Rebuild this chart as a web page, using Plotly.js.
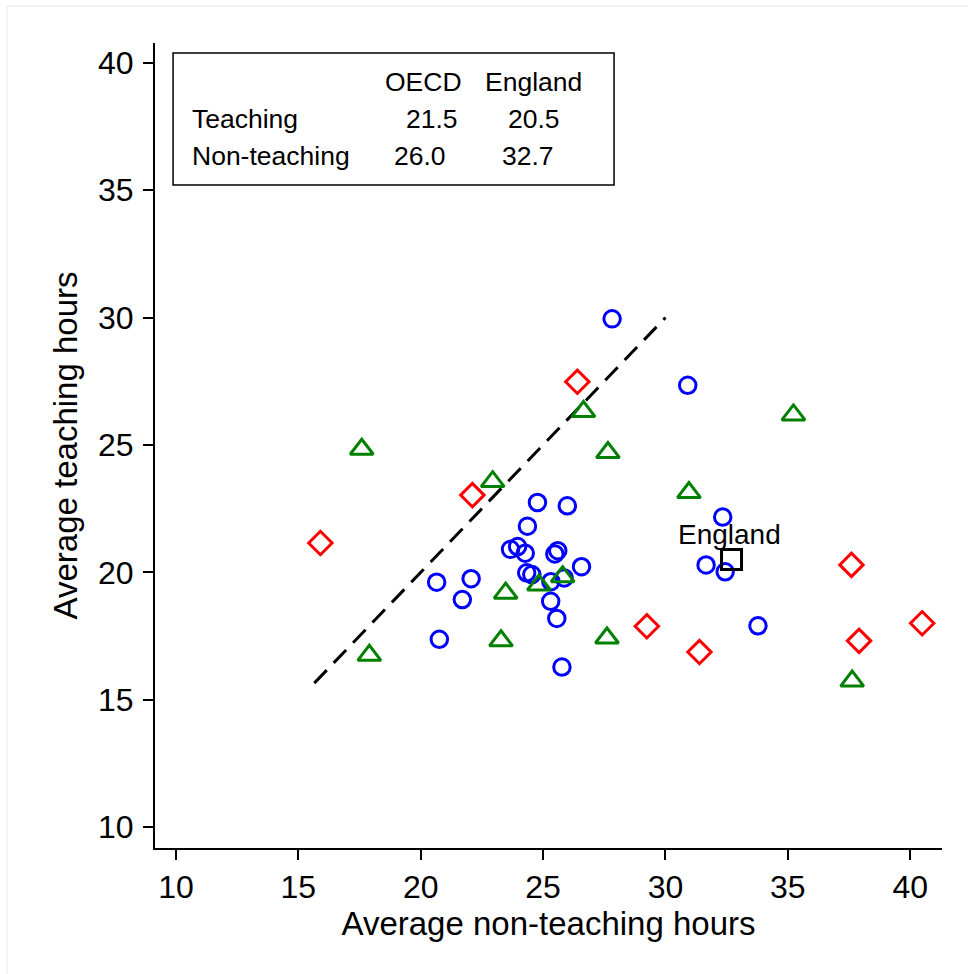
<!DOCTYPE html>
<html>
<head>
<meta charset="utf-8">
<script src="https://cdn.plot.ly/plotly-3.0.1.min.js"></script>
<style>
  html, body { margin: 0; padding: 0; background: #ffffff; }
  #chart { width: 968px; height: 974px; }
</style>
</head>
<body>
<div id="chart"></div>
<script>
// Group 1 (blue circles): [non-teaching hours, teaching hours]
const blueX = [27.82, 30.91, 32.34, 31.66, 32.44, 33.78, 24.77, 25.99, 24.36, 23.67, 23.96, 24.27, 25.60, 25.48, 26.57, 24.33, 24.54, 25.32, 25.86, 20.65, 22.06, 21.70, 25.31, 25.56, 20.76, 25.77];
const blueY = [29.95, 27.34, 22.17, 20.29, 20.02, 17.90, 22.74, 22.61, 21.81, 20.90, 21.01, 20.75, 20.85, 20.72, 20.22, 19.98, 19.91, 19.63, 19.78, 19.61, 19.75, 18.93, 18.86, 18.19, 17.37, 16.28];

// Group 2 (green triangles)
const greenX = [17.59, 22.94, 26.65, 27.65, 23.47, 24.83, 25.80, 23.28, 27.61, 17.90, 35.23, 30.96, 37.63];
const greenY = [24.83, 23.56, 26.31, 24.70, 19.18, 19.50, 19.83, 17.31, 17.42, 16.74, 26.18, 23.13, 15.73];

// Group 3 (red diamonds)
const redX = [26.40, 22.11, 15.90, 37.60, 29.24, 31.39, 37.91, 40.49];
const redY = [27.48, 23.03, 21.15, 20.29, 17.88, 16.87, 17.31, 18.00];

// England
const englandX = [32.7];
const englandY = [20.5];
const englandLabel = ["England"];

// 45-degree reference line endpoints
const refLineX = [15.65, 30.0];
const refLineY = [15.65, 30.0];

// Summary table
const tableCols = ["OECD", "England"];
const tableRows = ["Teaching", "Non-teaching"];
const oecdVals = ["21.5", "26.0"];
const englandVals = ["20.5", "32.7"];

const xTicks = [10, 15, 20, 25, 30, 35, 40];
const yTicks = [10, 15, 20, 25, 30, 35, 40];

const FONT = "Arial, 'Liberation Sans', Helvetica, sans-serif";

const traces = [
  {
    x: refLineX, y: refLineY, mode: "lines", type: "scatter",
    line: { color: "#000000", width: 3, dash: "18px,10px" },
    hoverinfo: "skip", showlegend: false
  },
  {
    x: blueX, y: blueY, mode: "markers", type: "scatter",
    marker: { symbol: "circle-open", size: 16.5, color: "#0000ff", line: { color: "#0000ff", width: 3 } },
    showlegend: false
  },
  {
    x: greenX, y: greenY, mode: "markers", type: "scatter",
    marker: { symbol: "triangle-up-open", size: 20, color: "#008000", line: { color: "#008000", width: 3 } },
    showlegend: false
  },
  {
    x: redX, y: redY, mode: "markers", type: "scatter",
    marker: { symbol: "diamond-open", size: 18, color: "#ff0000", line: { color: "#ff0000", width: 3 } },
    showlegend: false
  },
  {
    x: englandX, y: englandY, mode: "markers", type: "scatter",
    marker: { symbol: "square-open", size: 20, color: "#000000", line: { color: "#000000", width: 3 } },
    showlegend: false
  }
];

const txtFont = { family: FONT, size: 26.5, color: "#000000" };
const annotations = [];
// column headers
const colCenters = [20.13, 24.59];
tableCols.forEach((c, i) => annotations.push({
  x: colCenters[i], y: 39.25, xref: "x", yref: "y", text: c, showarrow: false,
  xanchor: "center", yanchor: "middle", font: txtFont
}));
// row labels
const rowYs = [37.80, 36.34];
tableRows.forEach((r, i) => annotations.push({
  x: 10.58, y: rowYs[i], xref: "x", yref: "y", text: r, showarrow: false,
  xanchor: "left", yanchor: "middle", font: txtFont
}));
const oecdCenters = [20.46, 19.97];
const engCenters = [24.63, 24.39];
oecdVals.forEach((v, i) => annotations.push({
  x: oecdCenters[i], y: rowYs[i], xref: "x", yref: "y", text: v, showarrow: false,
  xanchor: "center", yanchor: "middle", font: txtFont
}));
englandVals.forEach((v, i) => annotations.push({
  x: engCenters[i], y: rowYs[i], xref: "x", yref: "y", text: v, showarrow: false,
  xanchor: "center", yanchor: "middle", font: txtFont
}));
// England label
annotations.push({
  x: englandX[0] - 0.1, y: englandY[0] + 1.0, xref: "x", yref: "y", text: englandLabel[0],
  showarrow: false, xanchor: "center", yanchor: "middle",
  font: { family: FONT, size: 28, color: "#000000" }
});

const layout = {
  width: 968, height: 974,
  margin: { l: 155, r: 26, t: 43, b: 126, pad: 0 },
  paper_bgcolor: "#ffffff", plot_bgcolor: "#ffffff",
  showlegend: false,
  font: { family: FONT, color: "#000000" },
  xaxis: {
    range: [9.142, 41.30], tickvals: xTicks, ticktext: xTicks.map(String),
    showgrid: false, zeroline: false, showline: true, linecolor: "#000000", linewidth: 2,
    ticks: "outside", ticklen: 10, tickwidth: 2, tickcolor: "#000000",
    tickfont: { family: FONT, size: 32, color: "#000000" },
    title: { text: "Average non-teaching hours", font: { family: FONT, size: 33, color: "#000000" }, standoff: 4 }
  },
  yaxis: {
    range: [9.176, 40.78], tickvals: yTicks, ticktext: yTicks.map(String),
    showgrid: false, zeroline: false, showline: true, linecolor: "#000000", linewidth: 2,
    ticks: "outside", ticklen: 10, tickwidth: 2, tickcolor: "#000000",
    ticklabelstandoff: 3,
    tickfont: { family: FONT, size: 32, color: "#000000" },
    title: { text: "Average teaching hours", font: { family: FONT, size: 33, color: "#000000" }, standoff: 10 }
  },
  shapes: [
    { type: "rect", xref: "x", yref: "y", x0: 9.88, x1: 27.90, y0: 35.21, y1: 40.39,
      line: { color: "#000000", width: 1.5 }, fillcolor: "rgba(0,0,0,0)", layer: "below" },
    { type: "line", xref: "paper", yref: "paper", x0: -0.188, x1: 1.05, y0: 1.046, y1: 1.046,
      line: { color: "#eaf1f2", width: 1.5 } },
    { type: "line", xref: "paper", yref: "paper", x0: -0.188, x1: -0.188, y0: 1.046, y1: -0.16,
      line: { color: "#eaf1f2", width: 1.5 } }
  ],
  annotations: annotations
};

Plotly.newPlot("chart", traces, layout, { displayModeBar: false, staticPlot: true });
</script>
</body>
</html>
